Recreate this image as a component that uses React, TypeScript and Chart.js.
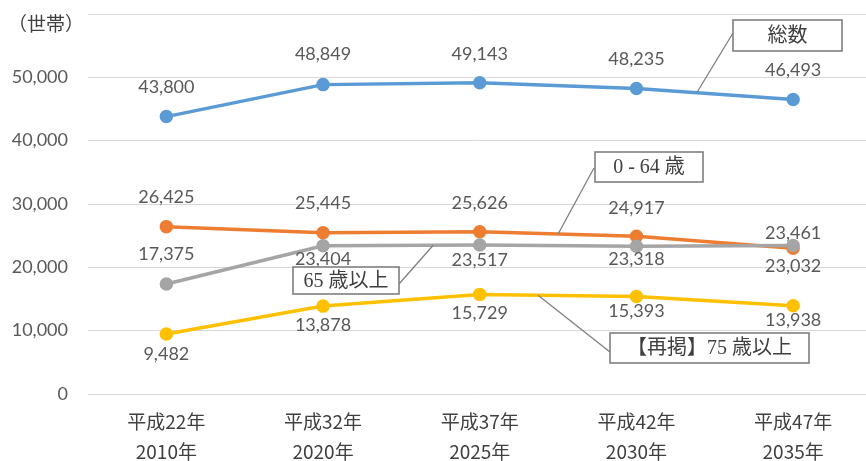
import React, { useEffect, useRef } from "react";
import { Chart, registerables } from "chart.js";

Chart.register(...registerables);

// ---- data ----
const categories: string[][] = [
  ["平成22年", "2010年"],
  ["平成32年", "2020年"],
  ["平成37年", "2025年"],
  ["平成42年", "2030年"],
  ["平成47年", "2035年"],
];
const totalHouseholds = [43800, 48849, 49143, 48235, 46493];
const age0to64 = [26425, 25445, 25626, 24917, 23032];
const age65plus = [17375, 23404, 23517, 23318, 23461];
const age75plus = [9482, 13878, 15729, 15393, 13938];
const yMax = 60000;
const yStep = 10000;
const yTitle = "（世帯）";

// data label vertical offsets (px) per series
const offTotal = [-29, -30, -29, -29, -29];
const off0to64 = [-29, -30, -29, -28, 18];
const off65 = [-30, 13, 15, 13, -12];
const off75 = [20, 19, 19, 15, 14];

// callout boxes: text, box rect, leader start, anchor on series (fractional category index)
const callouts = [
  { text: "総数", series: 0, at: 3.385, box: [733, 20, 109, 31], from: [733, 33] },
  { text: "0 - 64 歳", series: 1, at: 2.5, box: [595, 152, 108, 30], from: [594, 168] },
  { text: "65 歳以上", series: 2, at: 1.703, box: [293, 267, 106, 27], from: [399, 284] },
  { text: "【再掲】75 歳以上", series: 3, at: 2.372, box: [610, 333, 199, 30], from: [610, 352] },
];

const LABEL_FONT = "18px Lato, 'Noto Sans', sans-serif";
const CJK_FONT = "'Noto Sans CJK JP', sans-serif";
const SERIF_FONT = "20px 'Liberation Serif', 'Noto Sans CJK JP', serif";

export default function App() {
  const ref = useRef<HTMLCanvasElement | null>(null);

  useEffect(() => {
    document.body.style.margin = "0";
    document.body.style.overflow = "hidden";
    const canvas = ref.current;
    if (!canvas) return;

    const offsets = [offTotal, off0to64, off65, off75];

    const labelPlugin = {
      id: "labelsAndCallouts",
      afterDatasetsDraw(chart: any) {
        const ctx = chart.ctx as CanvasRenderingContext2D;
        const xs = chart.scales.x;
        const ys = chart.scales.y;
        ctx.save();
        // data labels
        ctx.font = LABEL_FONT;
        ctx.fillStyle = "#595959";
        ctx.textAlign = "center";
        ctx.textBaseline = "middle";
        chart.data.datasets.forEach((ds: any, di: number) => {
          const meta = chart.getDatasetMeta(di);
          meta.data.forEach((pt: any, i: number) => {
            const v = ds.data[i] as number;
            ctx.fillText(v.toLocaleString("en-US"), pt.x, pt.y + offsets[di][i]);
          });
        });
        // callouts
        callouts.forEach((c) => {
          const data = chart.data.datasets[c.series].data as number[];
          const i0 = Math.floor(c.at);
          const f = c.at - i0;
          const v = data[i0] + (data[i0 + 1] - data[i0]) * f;
          const ax = xs.getPixelForValue(c.at);
          const ay = ys.getPixelForValue(v);
          ctx.strokeStyle = "#7f7f7f";
          ctx.lineWidth = 1.3;
          ctx.beginPath();
          ctx.moveTo(c.from[0], c.from[1]);
          ctx.lineTo(ax, ay);
          ctx.stroke();
          const [bx, by, bw, bh] = c.box;
          ctx.fillStyle = "#ffffff";
          ctx.fillRect(bx, by, bw, bh);
          ctx.lineWidth = 1.6;
          ctx.strokeRect(bx, by, bw, bh);
          ctx.fillStyle = "#404040";
          ctx.font = SERIF_FONT;
          ctx.textAlign = "center";
          ctx.textBaseline = "middle";
          ctx.fillText(c.text, bx + bw / 2, by + bh / 2 + 1);
        });
        // axis title
        ctx.font = "19px " + CJK_FONT;
        ctx.fillStyle = "#404040";
        ctx.textAlign = "left";
        ctx.textBaseline = "middle";
        ctx.fillText(yTitle, 8, 24);
        ctx.restore();
      },
    };

    const mk = (label: string, data: number[], color: string, order: number) => ({
      label,
      data,
      borderColor: color,
      backgroundColor: color,
      pointBackgroundColor: color,
      pointBorderColor: color,
      borderWidth: 3.5,
      pointRadius: 5,
      tension: 0,
      order,
    });

    const chart = new Chart(canvas, {
      type: "line",
      data: {
        labels: categories,
        datasets: [
          mk("総数", totalHouseholds, "#5B9BD5", 1),
          mk("0-64歳", age0to64, "#ED7D31", 2),
          mk("65歳以上", age65plus, "#A5A5A5", 1),
          mk("【再掲】75歳以上", age75plus, "#FFC000", 1),
        ],
      },
      options: {
        animation: false,
        responsive: false,
        maintainAspectRatio: false,
        layout: { padding: { top: 14, right: 0, left: 0, bottom: 0 } },
        plugins: {
          legend: { display: false },
          tooltip: { enabled: false },
        },
        scales: {
          x: {
            offset: true,
            grid: { display: false, drawTicks: false },
            border: { display: false },
            ticks: {
              color: "#404040",
              font: { family: "'Noto Sans CJK JP'", size: 19, lineHeight: 1.58 },
              padding: 13,
              maxRotation: 0,
              autoSkip: false,
            },
            afterFit(scale: any) {
              scale.height = 67;
              scale.paddingLeft = 0;
              scale.paddingRight = 0;
            },
          },
          y: {
            min: 0,
            max: yMax,
            grid: { color: "#d9d9d9", lineWidth: 1, drawTicks: false },
            border: { display: false },
            ticks: {
              stepSize: yStep,
              color: "#595959",
              font: { family: "Lato", size: 18 },
              padding: 20,
              callback: (v: any) => (v === yMax ? "" : Number(v).toLocaleString("en-US")),
            },
            afterFit(scale: any) {
              scale.width = 88;
              scale.paddingTop = 0;
              scale.paddingBottom = 0;
            },
          },
        },
      },
      plugins: [labelPlugin],
    });

    return () => chart.destroy();
  }, []);

  return (
    <div style={{ width: 866, height: 461, overflow: "hidden", position: "relative" }}>
      <canvas ref={ref} width={880} height={461} style={{ display: "block", width: 880, height: 461 }} />
    </div>
  );
}
